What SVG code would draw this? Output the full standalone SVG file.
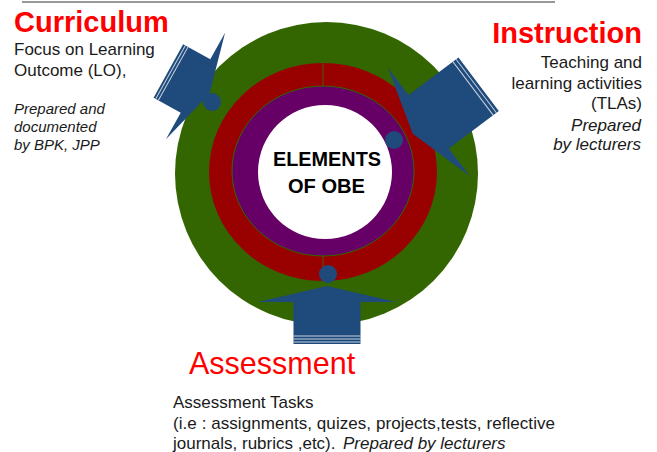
<svg xmlns="http://www.w3.org/2000/svg" width="657" height="452" viewBox="0 0 657 452">
<style>
.t{font-family:"Liberation Sans",Arial,sans-serif;fill:#1a1a1a}
.h{font-family:"Liberation Sans",Arial,sans-serif;fill:#ff0000}
.it{font-style:italic}
.arrow{fill:#1f4a7c}
.stripe{stroke:#ffffff;stroke-width:1;stroke-opacity:0.75}
.dot{fill:#1f4a7c}
.c{font-family:"Liberation Sans",Arial,sans-serif;font-weight:bold;fill:#000;text-anchor:middle}
</style>
<rect width="657" height="452" fill="#ffffff"/>
<line x1="22" y1="2" x2="555" y2="2" stroke="#333333" stroke-width="1"/>

<g id="rings">
  <circle cx="326.5" cy="173.5" r="151.5" fill="#336600"/>
  <ellipse cx="323" cy="172" rx="114" ry="109" fill="#990000"/>
  <ellipse cx="323" cy="171" rx="91" ry="85" fill="#660066" stroke="#336600" stroke-width="1"/>
  <circle cx="325" cy="172" r="67" fill="#ffffff"/>
  <line x1="323" y1="63" x2="323" y2="86" stroke="#4f5a00" stroke-width="1"/>
  <line x1="323" y1="256" x2="323" y2="268" stroke="#4f5a00" stroke-width="1"/>
</g>

<g id="center-label">
  <text class="c" x="327" y="166" font-size="21" textLength="108" lengthAdjust="spacingAndGlyphs">ELEMENTS</text>
  <text class="c" x="326.5" y="193" font-size="21" textLength="77" lengthAdjust="spacingAndGlyphs">OF OBE</text>
</g>

<g id="connectors">
  <g id="arrow-curriculum" transform="translate(195.5,86) rotate(29)">
    <polygon class="arrow" points="16,0 0,61 0,30.5 -31,30.5 -31,-30.5 0,-30.5 0,-61"/>
    <line class="stripe" x1="-28.5" y1="-30.5" x2="-28.5" y2="30.5"/>
    <line class="stripe" x1="-25.5" y1="-30.5" x2="-25.5" y2="30.5"/>
  </g>
  <g id="arrow-instruction" transform="translate(428.7,121.8) rotate(143)">
    <polygon class="arrow" points="20,0 0,68 0,33.5 -62.5,33.5 -62.5,-33.5 0,-33.5 0,-68"/>
    <line class="stripe" x1="-59.5" y1="-33.5" x2="-59.5" y2="33.5"/>
    <line class="stripe" x1="-55.5" y1="-33.5" x2="-55.5" y2="33.5"/>
  </g>
  <g id="arrow-assessment" transform="translate(327,302) rotate(-90)">
    <polygon class="arrow" points="16,0 0,69 0,33.5 -42,33.5 -42,-33.5 0,-33.5 0,-69"/>
    <line class="stripe" x1="-40" y1="-33.5" x2="-40" y2="33.5"/>
    <line class="stripe" x1="-37" y1="-33.5" x2="-37" y2="33.5"/>
    <line class="stripe" x1="-34" y1="-33.5" x2="-34" y2="33.5"/>
  </g>
  <circle class="dot" cx="212" cy="102" r="9"/>
  <circle class="dot" cx="394" cy="140" r="9"/>
  <circle class="dot" cx="328" cy="274" r="9"/>
</g>

<g id="curriculum">
  <text class="h" x="14" y="32" font-size="29" font-weight="bold">Curriculum</text>
  <text class="t" x="14" y="55" font-size="17">Focus on Learning</text>
  <text class="t" x="14" y="76" font-size="17">Outcome (LO),</text>
  <text class="t it" x="14" y="114" font-size="15">Prepared and</text>
  <text class="t it" x="14" y="132" font-size="15">documented</text>
  <text class="t it" x="14" y="150" font-size="15">by BPK, JPP</text>
</g>

<g id="instruction" text-anchor="end">
  <text class="h" x="642" y="43" font-size="29" font-weight="bold">Instruction</text>
  <text class="t" x="642" y="68" font-size="17">Teaching and</text>
  <text class="t" x="642" y="89" font-size="17">learning activities</text>
  <text class="t" x="642" y="109" font-size="17">(TLAs)</text>
  <text class="t it" x="641" y="131" font-size="17">Prepared</text>
  <text class="t it" x="641" y="150" font-size="17">by lecturers</text>
</g>

<g id="assessment">
  <text class="h" x="189" y="374" font-size="30.5">Assessment</text>
  <text class="t" x="173" y="408" font-size="17">Assessment Tasks</text>
  <text class="t" x="173" y="428.5" font-size="17" textLength="382">(i.e : assignments, quizes, projects,tests, reflective</text>
  <text class="t" x="173" y="448.5" font-size="17">journals, rubrics ,etc). <tspan class="it" x="343">Prepared by lecturers</tspan></text>
</g>
</svg>
